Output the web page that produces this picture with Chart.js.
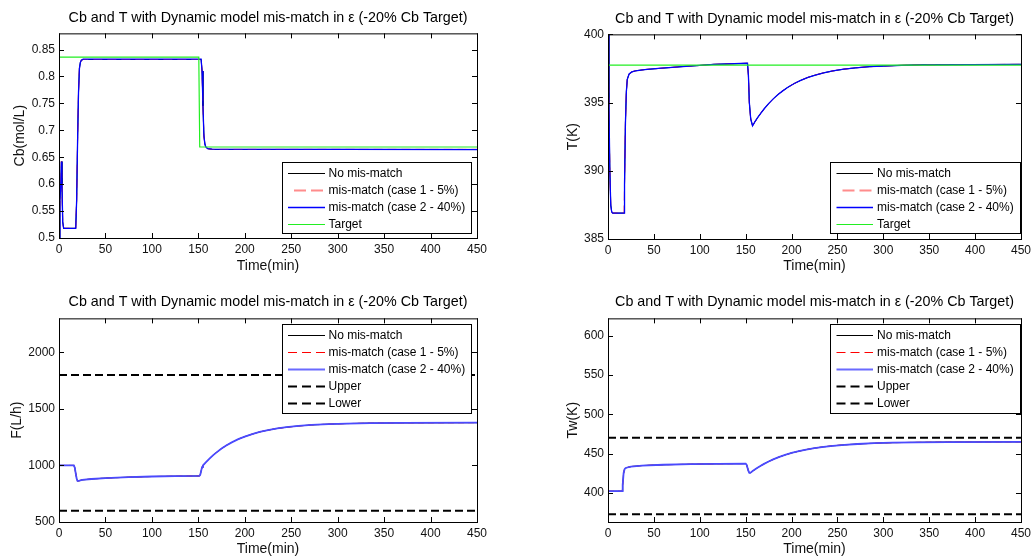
<!DOCTYPE html>
<html><head><meta charset="utf-8">
<script src="https://cdn.jsdelivr.net/npm/chart.js@4.4.0/dist/chart.umd.min.js"></script>
<style>
html,body{margin:0;padding:0;background:#fff;overflow:hidden;width:1035px;height:556px;}
canvas{position:absolute;}
</style></head><body>
<canvas id="c1" width="517" height="276" style="left:0px;top:0px;width:517px;height:276px"></canvas>
<canvas id="c2" width="517" height="276" style="left:518px;top:0px;width:517px;height:276px"></canvas>
<canvas id="c3" width="517" height="280" style="left:0px;top:276px;width:517px;height:280px"></canvas>
<canvas id="c4" width="517" height="280" style="left:518px;top:276px;width:517px;height:280px"></canvas>
<script>
const FONT = "'Liberation Sans', Arial, Helvetica, sans-serif";
const titleText = 'Cb and T with Dynamic model mis-match in \u03b5 (-20% Cb Target)';
const seriesNames = ['No mis-match', 'mis-match (case 1 - 5%)', 'mis-match (case 2 - 40%)'];

// ---- tick values ----
const timeTicks = [0, 50, 100, 150, 200, 250, 300, 350, 400, 450];
const cbTicks = [0.5, 0.55, 0.6, 0.65, 0.7, 0.75, 0.8, 0.85];
const tTicks = [385, 390, 395, 400];
const fTicks = [500, 1000, 1500, 2000];
const twTicks = [400, 450, 500, 550, 600];

// ---- Cb (mol/L) ----
const cbTime = [0, 1, 2, 2.6, 3.2, 4, 5, 18, 19, 20, 21, 22, 23, 24, 26, 30, 153, 154, 155, 156, 157, 158, 160, 165, 450];
const cbCase2 = [0.5, 0.57, 0.6, 0.642, 0.6, 0.53, 0.518, 0.518, 0.57, 0.68, 0.77, 0.815, 0.826, 0.83, 0.832, 0.832, 0.832, 0.81, 0.745, 0.69, 0.675, 0.669, 0.666, 0.665, 0.664];
const cbCase1 = [0.5, 0.57, 0.6, 0.642, 0.6, 0.53, 0.518, 0.518, 0.57, 0.68, 0.77, 0.815, 0.826, 0.83, 0.8315, 0.8315, 0.8315, 0.81, 0.745, 0.69, 0.675, 0.669, 0.666, 0.6645, 0.6645];
const cbNoMis = [0.5, 0.57, 0.6, 0.642, 0.6, 0.53, 0.518, 0.518, 0.57, 0.68, 0.77, 0.815, 0.826, 0.83, 0.8315, 0.8315, 0.8315, 0.81, 0.745, 0.69, 0.675, 0.669, 0.666, 0.6645, 0.6645];
const cbTargetTime = [0, 150.5, 151.5, 450];
const cbTarget = [0.836, 0.836, 0.669, 0.669];

// ---- T (K) ----
const tTime = [0, 1, 2, 3, 4, 5, 17.5, 18, 19, 20, 21, 23, 26, 30, 40, 55, 70, 85, 100, 115, 152, 153, 154, 155.5, 157.5, 160, 163, 166, 170, 175, 180, 185, 190, 196, 203, 210, 218, 226, 235, 245, 257, 270, 285, 300, 320, 340, 450];
const tCase2 = [400.5, 395.0, 390.0, 387.5, 387.0, 386.9, 386.9, 389.0, 393.5, 395.8, 396.7, 397.1, 397.25, 397.33, 397.42, 397.5, 397.58, 397.66, 397.72, 397.8, 397.88, 397.0, 395.0, 393.8, 393.3, 393.58, 393.89, 394.18, 394.53, 394.92, 395.27, 395.58, 395.84, 396.12, 396.4, 396.63, 396.85, 397.02, 397.18, 397.32, 397.45, 397.55, 397.63, 397.68, 397.73, 397.77, 397.8];
const tCase1 = tCase2.slice();
const tNoMis = tCase2.slice();
const tTargetTime = [0, 450];
const tTarget = [397.75, 397.75];

// ---- F (L/h) ----
const fTime = [0, 16, 17, 18, 19, 20, 22, 25, 35, 50, 75, 100, 125, 151, 152, 153, 154, 155, 158, 162, 166, 170, 175, 180, 186, 193, 200, 208, 216, 225, 235, 245, 258, 272, 290, 310, 335, 370, 450];
const fCase2 = [1000, 1000, 980, 930, 885, 862, 865, 872, 880, 888, 896, 902, 905, 907, 915, 950, 985, 1000, 1027, 1061, 1091, 1118, 1149, 1176, 1204, 1232, 1255, 1277, 1296, 1312, 1327, 1338, 1349, 1358, 1365, 1370, 1374, 1376, 1378];
const fCase1 = fCase2.slice();
const fNoMis = fCase2.slice();
const fBoundTime = [0, 450];
const fUpper = [1800, 1800];
const fLower = [600, 600];

// ---- Tw (K) ----
const twTime = [0, 15.5, 16, 17, 18, 19, 20, 25, 37, 60, 90, 120, 150, 151, 152, 153, 154, 155, 158, 162, 166, 170, 175, 180, 186, 193, 200, 208, 216, 225, 235, 245, 258, 272, 290, 310, 335, 370, 450];
const twCase2 = [402.2, 402.2, 410, 425, 430, 431.5, 432, 433.5, 434.8, 435.8, 436.5, 437, 437.3, 436, 432, 428, 425.6, 425.5, 428.1, 431.3, 434.2, 436.9, 439.9, 442.6, 445.5, 448.3, 450.8, 453.1, 455.1, 457.0, 458.6, 459.9, 461.2, 462.2, 463.2, 463.9, 464.3, 464.7, 464.9];
const twCase1 = twCase2.slice();
const twNoMis = twCase2.slice();
const twBoundTime = [0, 450];
const twUpper = [470, 470];
const twLower = [373, 373];

function pts(xs, ys) { return xs.map((x, i) => ({x: x, y: ys[i]})); }

const matlabPlugin = {
  id: 'matlab',
  afterDatasetsDraw(chart, args, o) {
    const ctx = chart.ctx, a = chart.chartArea;
    ctx.save();
    ctx.setLineDash([]);
    ctx.strokeStyle = '#000';
    ctx.lineWidth = 1;
    ctx.strokeRect(a.left + 0.5, a.top + 0.5, a.right - a.left, a.bottom - a.top);
    const L = 5;
    const xs = chart.scales.x, ys = chart.scales.y;
    ctx.beginPath();
    xs.ticks.forEach(t => {
      const px = Math.round(xs.getPixelForValue(t.value)) + 0.5;
      ctx.moveTo(px, a.bottom); ctx.lineTo(px, a.bottom - L);
      ctx.moveTo(px, a.top); ctx.lineTo(px, a.top + L);
    });
    ys.ticks.forEach(t => {
      const py = Math.round(ys.getPixelForValue(t.value)) + 0.5;
      ctx.moveTo(a.left, py); ctx.lineTo(a.left + L, py);
      ctx.moveTo(a.right, py); ctx.lineTo(a.right - L, py);
    });
    ctx.stroke();
    // legend box
    ctx.fillStyle = '#fff';
    ctx.fillRect(o.x, o.y, o.w, o.h);
    ctx.strokeStyle = '#000';
    ctx.strokeRect(o.x + 0.5, o.y + 0.5, o.w, o.h);
    ctx.font = '12px ' + FONT;
    ctx.textBaseline = 'middle';
    ctx.textAlign = 'left';
    chart.data.datasets.forEach((ds, i) => {
      const y = Math.round(o.row0 + i * o.rowH) + 0.5;
      ctx.save();
      ctx.strokeStyle = ds.legendColor || ds.borderColor;
      ctx.lineWidth = ds.legendWidth || ds.borderWidth;
      ctx.setLineDash(ds.legendDash || ds.borderDash || []);
      ctx.beginPath();
      ctx.moveTo(o.x0, y); ctx.lineTo(o.x1, y);
      ctx.stroke();
      ctx.restore();
      ctx.fillStyle = '#000';
      ctx.fillText(ds.label, o.tx, y);
    });
    ctx.restore();
  }
};

function makeChart(id, g) {
  const ctx = document.getElementById(id);
  return new Chart(ctx, {
    type: 'line',
    data: { datasets: g.datasets },
    plugins: [matlabPlugin],
    options: {
      responsive: false,
      animation: false,
      devicePixelRatio: 1,
      layout: { padding: { left: 0, right: g.padRight, top: 0, bottom: 0 } },
      elements: { point: { radius: 0 }, line: { tension: 0 } },
      plugins: {
        legend: { display: false },
        tooltip: { enabled: false },
        title: {
          display: true, text: titleText, fullSize: false, color: '#000',
          font: { family: FONT, size: 14.3, weight: 'normal', lineHeight: 1.2 },
          padding: { top: g.titleTop, bottom: g.titleBottom }
        },
        matlab: g.legend
      },
      scales: {
        x: {
          type: 'linear', min: 0, max: 450, position: 'bottom',
          grid: { display: false, drawTicks: false }, border: { display: false },
          afterBuildTicks: s => { s.ticks = timeTicks.map(v => ({ value: v })); },
          afterFit: s => { s.height = g.xHeight; },
          ticks: { color: '#111', padding: 4, font: { family: FONT, size: 12 }, callback: v => String(v) },
          title: { display: true, text: 'Time(min)', color: '#111', font: { family: FONT, size: 14, lineHeight: 1.2 }, padding: { top: 0, bottom: g.xTitlePad } }
        },
        y: {
          type: 'linear', min: g.ymin, max: g.ymax, position: 'left',
          grid: { display: false, drawTicks: false }, border: { display: false },
          afterBuildTicks: s => { s.ticks = g.yTicks.map(v => ({ value: v })); },
          afterFit: s => { s.width = g.yWidth; },
          ticks: { color: '#111', padding: 4, font: { family: FONT, size: 12 }, callback: v => String(Math.round(v * 100) / 100) },
          title: { display: true, text: g.yTitle, color: '#111', font: { family: FONT, size: 14, lineHeight: 1.2 }, padding: { top: g.yTitlePad, bottom: 0 } }
        }
      }
    }
  });
}

function simDatasets(xs, noMis, c1, c2, style) {
  return [
    { label: seriesNames[0], data: pts(xs, noMis), borderColor: '#000', borderWidth: 1, order: 5 },
    { label: seriesNames[1], data: pts(xs, c1), borderColor: style.redColor, legendColor: style.redLegend, borderWidth: 1, legendWidth: style.redWidth, borderDash: style.redDash, legendDash: style.redLegendDash, order: 4 },
    { label: seriesNames[2], data: pts(xs, c2), borderColor: style.blueColor, legendColor: style.blueLegend, borderWidth: style.blueWidth, order: 3 }
  ];
}
const topStyle = { redColor: '#ff3333', redLegend: '#ff8c8c', redWidth: 2, redDash: [9, 5], redLegendDash: [0, 6, 12, 5, 12, 5], blueColor: '#0000ff', blueLegend: '#0000ff', blueWidth: 1.3 };
const botStyle = { redColor: '#ff0000', redLegend: '#ff0000', redWidth: 1, redDash: [6, 4], redLegendDash: [9, 5], blueColor: '#4a4aff', blueLegend: '#6a6aff', blueWidth: 1.8 };
const boundLegendDash = [9, 5];

makeChart('c1', {
  datasets: simDatasets(cbTime, cbNoMis, cbCase1, cbCase2, topStyle).concat([
    { label: 'Target', data: pts(cbTargetTime, cbTarget), borderColor: '#22ee22', borderWidth: 1.2, order: 1 }
  ]),
  padRight: 40, titleTop: 9.6, titleBottom: 6.6, xHeight: 38, yWidth: 59, xTitlePad: 1, yTitlePad: 11.6,
  ymin: 0.5, ymax: 0.88, yTicks: cbTicks, yTitle: 'Cb(mol/L)',
  legend: { x: 282, y: 162, w: 189, h: 71, row0: 172.5, rowH: 17, x0: 288, x1: 325, tx: 328.5 }
});

makeChart('c2', {
  datasets: simDatasets(tTime, tNoMis, tCase1, tCase2, topStyle).concat([
    { label: 'Target', data: pts(tTargetTime, tTarget), borderColor: '#22ee22', borderWidth: 1.2, order: 1 }
  ]),
  padRight: 9, titleTop: 10.1, titleBottom: 7.1, xHeight: 37, yWidth: 90, xTitlePad: 1, yTitlePad: 46.6,
  ymin: 385, ymax: 400, yTicks: tTicks, yTitle: 'T(K)',
  legend: { x: 312, y: 162, w: 190, h: 71, row0: 172.5, rowH: 17, x0: 318.5, x1: 355, tx: 359 }
});

makeChart('c3', {
  datasets: simDatasets(fTime, fNoMis, fCase1, fCase2, botStyle).concat([
    { label: 'Upper', data: pts(fBoundTime, fUpper), borderColor: '#000', borderWidth: 2, borderDash: [8, 4], legendDash: boundLegendDash, order: 2 },
    { label: 'Lower', data: pts(fBoundTime, fLower), borderColor: '#000', borderWidth: 2, borderDash: [8, 4], legendDash: boundLegendDash, order: 1 }
  ]),
  padRight: 40, titleTop: 17.4, titleBottom: 7.8, xHeight: 34, yWidth: 59, xTitlePad: -1.4, yTitlePad: 8.6,
  ymin: 500, ymax: 2300, yTicks: fTicks, yTitle: 'F(L/h)',
  legend: { x: 282, y: 48, w: 189, h: 89, row0: 59, rowH: 17, x0: 288, x1: 325, tx: 328.5 }
});

makeChart('c4', {
  datasets: simDatasets(twTime, twNoMis, twCase1, twCase2, botStyle).concat([
    { label: 'Upper', data: pts(twBoundTime, twUpper), borderColor: '#000', borderWidth: 2, borderDash: [8, 4], legendDash: boundLegendDash, order: 2 },
    { label: 'Lower', data: pts(twBoundTime, twLower), borderColor: '#000', borderWidth: 2, borderDash: [8, 4], legendDash: boundLegendDash, order: 1 }
  ]),
  padRight: 9, titleTop: 17.4, titleBottom: 7.8, xHeight: 34, yWidth: 90, xTitlePad: -1.4, yTitlePad: 46.6,
  ymin: 363, ymax: 622, yTicks: twTicks, yTitle: 'Tw(K)',
  legend: { x: 312, y: 48, w: 190, h: 89, row0: 59, rowH: 17, x0: 318.5, x1: 355, tx: 359 }
});
</script>
</body></html>
